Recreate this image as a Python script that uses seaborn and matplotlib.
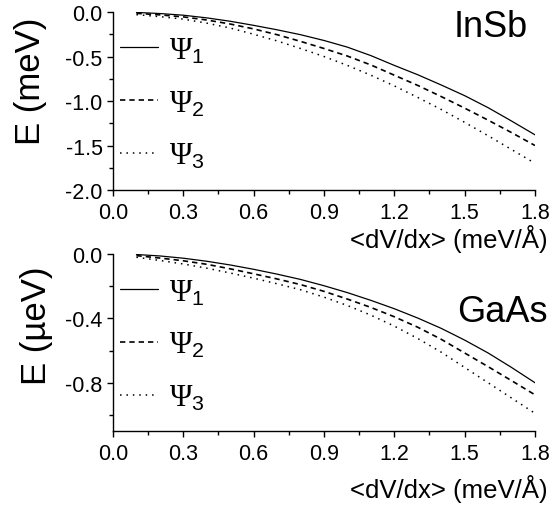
import numpy as np
import pandas as pd
import seaborn as sns
import matplotlib
matplotlib.use("Agg")
import matplotlib.pyplot as plt
from matplotlib.ticker import MultipleLocator, FormatStrFormatter

# ---- data ----
field = [0.1, 0.2, 0.3, 0.4, 0.5, 0.6, 0.7, 0.8, 0.9, 1.0,
         1.1, 1.2, 1.3, 1.4, 1.5, 1.6, 1.7, 1.8]

insb_psi1 = [-0.005, -0.017, -0.036, -0.066, -0.104, -0.150, -0.200, -0.255, -0.320,
             -0.395, -0.490, -0.600, -0.705, -0.820, -0.940, -1.075, -1.225, -1.380]
insb_psi2 = [-0.015, -0.032, -0.055, -0.090, -0.135, -0.190, -0.255, -0.330, -0.410,
             -0.495, -0.595, -0.710, -0.825, -0.950, -1.080, -1.215, -1.355, -1.500]
insb_psi3 = [-0.030, -0.052, -0.080, -0.125, -0.180, -0.250, -0.325, -0.410, -0.500,
             -0.600, -0.710, -0.830, -0.960, -1.095, -1.240, -1.390, -1.545, -1.700]

gaas_psi1 = [-0.003, -0.012, -0.026, -0.045, -0.068, -0.095, -0.125, -0.158, -0.197,
             -0.240, -0.288, -0.340, -0.398, -0.462, -0.535, -0.615, -0.705, -0.800]
gaas_psi2 = [-0.010, -0.025, -0.042, -0.064, -0.092, -0.123, -0.155, -0.190, -0.232,
             -0.280, -0.332, -0.390, -0.455, -0.530, -0.615, -0.700, -0.787, -0.875]
gaas_psi3 = [-0.020, -0.040, -0.062, -0.088, -0.118, -0.150, -0.185, -0.222, -0.268,
             -0.320, -0.380, -0.448, -0.525, -0.610, -0.705, -0.800, -0.895, -0.990]

series_labels = [r"$\mathrm{\Psi}_{\mathsf{1}}$", r"$\mathrm{\Psi}_{\mathsf{2}}$",
                 r"$\mathrm{\Psi}_{\mathsf{3}}$"]
x_ticks = [0.0, 0.3, 0.6, 0.9, 1.2, 1.5, 1.8]
insb_yticks = [-2.0, -1.5, -1.0, -0.5, 0.0]
gaas_yticks = [-0.8, -0.4, 0.0]
xlabel_text = "<dV/dx> (meV/Å)"

# ---- style ----
sns.set_theme(style="ticks")
plt.rcParams["font.family"] = ["Liberation Sans", "DejaVu Sans"]
plt.rcParams["mathtext.fontset"] = "custom"
plt.rcParams["mathtext.rm"] = "Liberation Serif"
plt.rcParams["mathtext.sf"] = "Liberation Sans"
plt.rcParams["mathtext.it"] = "Liberation Serif:italic"
plt.rcParams["axes.linewidth"] = 1.0
plt.rcParams["xtick.direction"] = "out"
plt.rcParams["ytick.direction"] = "out"
for k in ["text.color", "axes.labelcolor", "xtick.color", "ytick.color", "axes.edgecolor"]:
    plt.rcParams[k] = "black"

fig = plt.figure(figsize=(5.52, 5.06), dpi=100)
ax_top = fig.add_axes([0.2047, 0.6225, 0.7645, 0.3518])
ax_bot = fig.add_axes([0.2047, 0.1462, 0.7645, 0.3498])

line_styles = [
    dict(linestyle="-", linewidth=0.9),
    dict(linestyle=(0, (3.2, 2.4)), linewidth=1.2),
    dict(linestyle=(0, (1, 3.2)), linewidth=1.1),
]


def draw(ax, ys, yticks, ylim, yminor, ylabel, ylab_coords, legend_anchor, xlab_y):
    for i, (y, lab) in enumerate(zip(ys, series_labels)):
        sns.lineplot(x=field, y=y, ax=ax, color="black", label=lab, **line_styles[i])
    ax.set_xlim(0.0, 1.8)
    ax.set_ylim(*ylim)
    ax.set_xticks(x_ticks)
    ax.set_yticks(yticks)
    ax.xaxis.set_minor_locator(MultipleLocator(0.15))
    ax.yaxis.set_minor_locator(MultipleLocator(yminor))
    ax.xaxis.set_major_formatter(FormatStrFormatter("%.1f"))
    ax.yaxis.set_major_formatter(FormatStrFormatter("%.1f"))
    ax.tick_params(which="major", length=4.5, width=1.0, labelsize=15.5, pad=4, colors="black")
    ax.tick_params(which="minor", length=3, width=1.0, colors="black")
    ax.tick_params(axis="y", which="major", pad=3)
    for s in ["top", "right"]:
        ax.spines[s].set_visible(False)
    ax.set_ylabel(ylabel, fontsize=25)
    ax.yaxis.set_label_coords(*ylab_coords)
    ax.set_xlabel(xlabel_text, fontsize=18.5, ha="right")
    ax.xaxis.set_label_coords(1.031, xlab_y)
    leg = ax.legend(loc="upper left", bbox_to_anchor=legend_anchor, frameon=False,
                    fontsize=22, handlelength=1.25, handletextpad=0.35,
                    labelspacing=0.75, borderpad=0, borderaxespad=0)
    for h in leg.get_lines():
        h.set_color("black")


draw(ax_top, [insb_psi1, insb_psi2, insb_psi3], insb_yticks, (-2.0, 0.0), 0.25,
     "E (meV)", (-0.156, 0.618), (0.0166, 0.87), -0.19)
draw(ax_bot, [gaas_psi1, gaas_psi2, gaas_psi3], gaas_yticks, (-1.1, 0.0), 0.2,
     "E (µeV)", (-0.142, 0.60), (0.0166, 0.87), -0.245)

fig.text(528 / 552, 1 - 37 / 506, "InSb", fontsize=26, ha="right", va="baseline")
fig.text(548 / 552, 1 - 322 / 506, "GaAs", fontsize=26, ha="right", va="baseline")

fig.savefig("out.png", dpi=100)
